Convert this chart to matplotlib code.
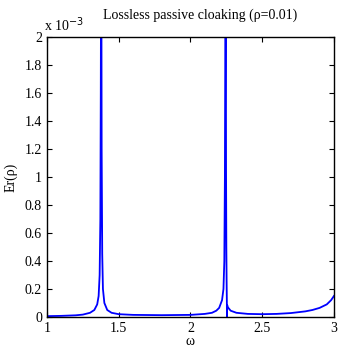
import matplotlib.pyplot as plt
from matplotlib.ticker import FuncFormatter

plt.rcParams['font.family'] = ['Liberation Serif', 'DejaVu Serif']

# omega and Er(rho) values (Er in units of 1e-3)
omega = [1.0, 1.1, 1.2, 1.25, 1.3, 1.33, 1.35, 1.36, 1.367, 1.372, 1.375, 1.377,
         1.379, 1.381, 1.385, 1.39, 1.40, 1.42, 1.45, 1.5, 1.6, 1.8, 2.0, 2.1,
         2.15, 2.18, 2.2, 2.22, 2.23, 2.236, 2.24, 2.243, 2.2445,
         2.246, 2.248, 2.25, 2.252, 2.2535, 2.2545, 2.256, 2.26, 2.28, 2.32,
         2.4, 2.5, 2.6, 2.7, 2.8, 2.85, 2.9, 2.95, 2.98, 3.0]
er = [0.006, 0.008, 0.012, 0.017, 0.03, 0.05, 0.09, 0.15, 0.3, 0.7, 1.6, 2.5,
      2.5, 1.2, 0.45, 0.2, 0.1, 0.05, 0.03, 0.02, 0.015, 0.013, 0.015, 0.022,
      0.03, 0.045, 0.065, 0.12, 0.2, 0.4, 1.0, 2.0, 2.5,
      2.5, 1.05, 0.5, 0.25, 0.12, 0.0, 0.085, 0.07, 0.045, 0.03,
      0.022, 0.02, 0.022, 0.028, 0.04, 0.05, 0.065, 0.09, 0.12, 0.15]

er = [v * 1e-3 for v in er]

fig = plt.figure(figsize=(3.38, 3.47), dpi=100)
ax = fig.add_axes([0.139, 0.0865, 0.849, 0.8065])
ax.plot(omega, er, color=(0, 0, 1), lw=1.3)

ax.set_xlim(1, 3)
ax.set_ylim(0, 2e-3)
ax.set_xticks([1, 1.5, 2, 2.5, 3])
ax.set_xticklabels(['1', '1.5', '2', '2.5', '3'])
ax.set_yticks([i * 0.2e-3 for i in range(11)])
ax.yaxis.set_major_formatter(FuncFormatter(lambda v, p: '%g' % round(v * 1e3, 1)))
ax.tick_params(direction='in', top=True, right=True, labelsize=10, length=3.5, width=0.8)
for s in ax.spines.values():
    s.set_linewidth(1.0)

ax.text(-0.01, 1.01, r'x 10$^{-3}$', transform=ax.transAxes, fontsize=10, ha='left', va='bottom')
ax.set_title('Lossless passive cloaking (\u03c1=0.01)', fontsize=10, pad=13, x=0.535)
ax.set_xlabel('\u03c9', fontsize=10, labelpad=0)
ax.set_ylabel('Er(\u03c1)', fontsize=10, labelpad=5)

fig.savefig('out.png', dpi=100)
